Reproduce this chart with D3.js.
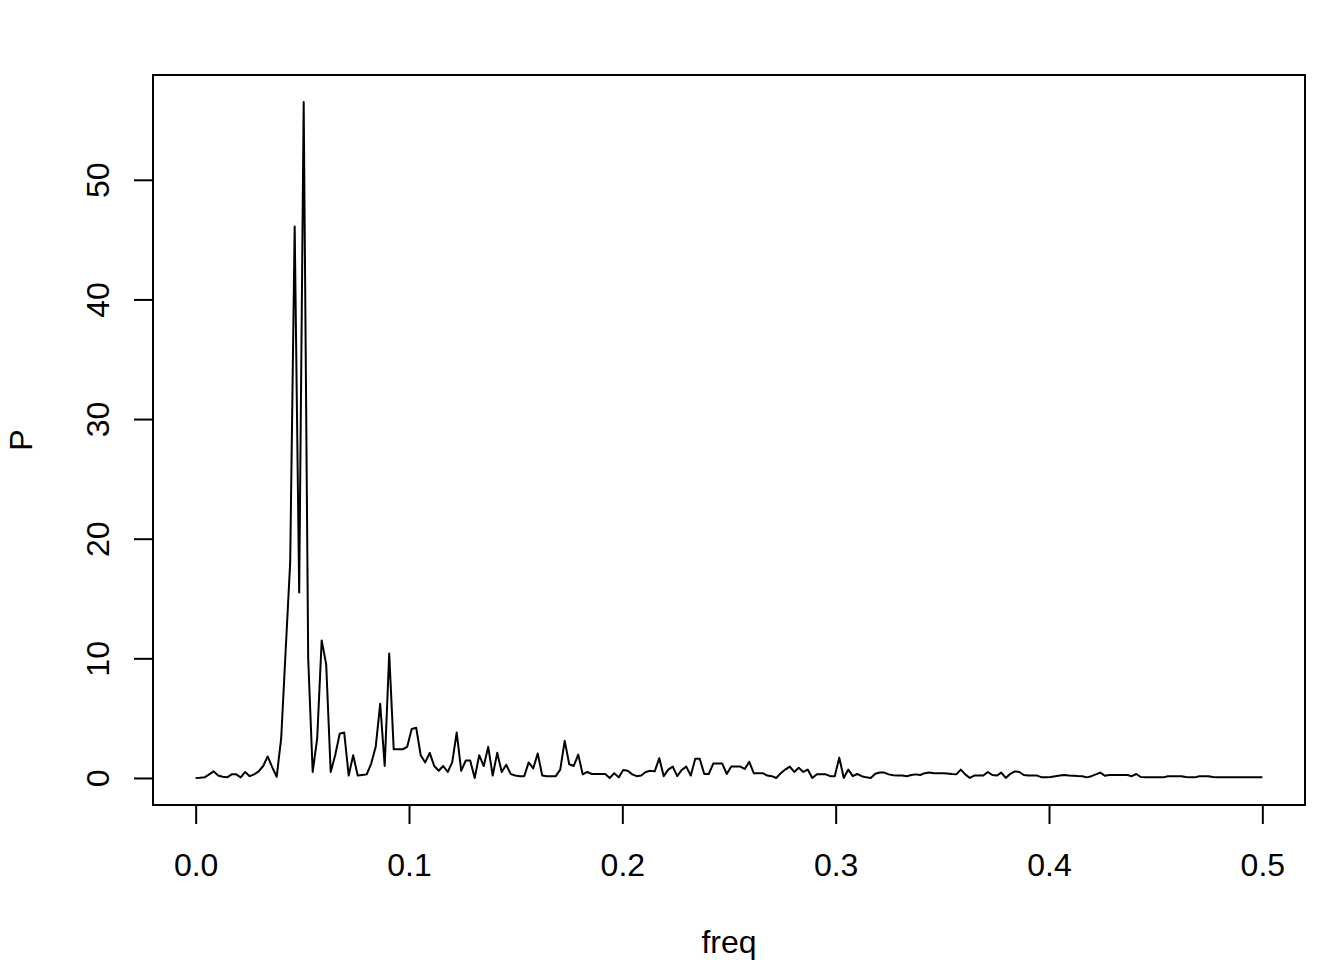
<!DOCTYPE html>
<html>
<head>
<meta charset="utf-8">
<script src="https://cdn.jsdelivr.net/npm/d3@7"></script>
<style>
  html, body { margin: 0; padding: 0; background: #ffffff; }
  svg { display: block; }
  text { font-family: "Liberation Sans", Arial, sans-serif; }
</style>
</head>
<body>
<svg id="chart" width="1344" height="960"></svg>
<script>
// ---- data ----
const seriesLength = 474;               // frequencies are k / seriesLength, k = 0..237
const power = [
  0, 0.02, 0.05, 0.3, 0.55, 0.2, 0.1, 0.05, 0.3, 0.3,
  0.05, 0.5, 0.15, 0.3, 0.55, 1.0, 1.8, 0.9, 0.1, 3.3,
  10.7, 18, 46.1, 15.5, 56.5, 10, 0.5, 3.3, 11.5, 9.5,
  0.5, 1.9, 3.7, 3.8, 0.2, 1.9, 0.2, 0.25, 0.3, 1.2,
  2.6, 6.2, 1.0, 10.4, 2.4, 2.4, 2.4, 2.6, 4.1, 4.2,
  1.9, 1.3, 2.1, 1.0, 0.6, 1.0, 0.5, 1.3, 3.8, 0.6,
  1.45, 1.45, 0.0, 1.9, 1.0, 2.6, 0.2, 2.1, 0.5, 1.1,
  0.33, 0.2, 0.15, 0.15, 1.3, 0.8, 2.05, 0.2, 0.15, 0.15,
  0.15, 0.7, 3.1, 1.15, 1.0, 1.95, 0.3, 0.5, 0.33, 0.33,
  0.33, 0.33, 0.0, 0.4, 0.05, 0.67, 0.6, 0.3, 0.15, 0.2,
  0.5, 0.6, 0.55, 1.65, 0.15, 0.7, 0.95, 0.15, 0.67, 0.95,
  0.2, 1.6, 1.6, 0.33, 0.33, 1.2, 1.2, 1.2, 0.33, 0.95,
  0.95, 0.95, 0.75, 1.35, 0.4, 0.4, 0.4, 0.2, 0.15, 0.0,
  0.4, 0.7, 0.95, 0.5, 0.85, 0.5, 0.7, 0.0, 0.3, 0.3,
  0.3, 0.15, 0.15, 1.7, 0.0, 0.7, 0.15, 0.33, 0.15, 0.05,
  0.0, 0.35, 0.45, 0.45, 0.3, 0.22, 0.2, 0.2, 0.15, 0.25,
  0.3, 0.25, 0.4, 0.45, 0.4, 0.4, 0.4, 0.38, 0.33, 0.3,
  0.7, 0.3, 0.0, 0.2, 0.2, 0.2, 0.5, 0.25, 0.2, 0.45,
  0.0, 0.35, 0.55, 0.5, 0.25, 0.2, 0.2, 0.2, 0.05, 0.05,
  0.08, 0.15, 0.2, 0.25, 0.2, 0.18, 0.16, 0.15, 0.05, 0.15,
  0.3, 0.45, 0.18, 0.25, 0.25, 0.25, 0.25, 0.25, 0.15, 0.33,
  0.08, 0.05, 0.05, 0.05, 0.05, 0.05, 0.15, 0.15, 0.15, 0.15,
  0.08, 0.05, 0.05, 0.15, 0.15, 0.15, 0.08, 0.05, 0.05, 0.05,
  0.05, 0.05, 0.05, 0.05, 0.05, 0.05, 0.05, 0.05
];
const freq = power.map((_, k) => k / seriesLength);
const xTicks = [0, 0.1, 0.2, 0.3, 0.4, 0.5];
const yTicks = [0, 10, 20, 30, 40, 50];
const xLabel = "freq";
const yLabel = "P";

// ---- layout ----
const box = { left: 153, right: 1305, top: 75, bottom: 805 };
const svg = d3.select("#chart");
const FONT = 32;

function padExtent(ext) {
  const d = (ext[1] - ext[0]) * 0.04;
  return [ext[0] - d, ext[1] + d];
}

const x = d3.scaleLinear()
  .domain(padExtent([d3.min(freq), d3.max(freq)]))
  .range([box.left, box.right]);
const y = d3.scaleLinear()
  .domain(padExtent([d3.min(power), d3.max(power)]))
  .range([box.bottom, box.top]);

// data line
const line = d3.line().x((d, i) => x(freq[i])).y(d => y(d));
svg.append("path")
  .datum(power)
  .attr("d", line)
  .attr("fill", "none")
  .attr("stroke", "#000")
  .attr("stroke-width", 2)
  .attr("stroke-linejoin", "round");

// plot box
svg.append("rect")
  .attr("x", box.left).attr("y", box.top)
  .attr("width", box.right - box.left).attr("height", box.bottom - box.top)
  .attr("fill", "none").attr("stroke", "#000").attr("stroke-width", 2);

// x axis
const gx = svg.append("g")
  .attr("transform", `translate(0,${box.bottom})`)
  .call(d3.axisBottom(x).tickValues(xTicks).tickFormat(d3.format(".1f")).tickSize(19));
gx.select(".domain").remove();
svg.append("line")
  .attr("x1", x(xTicks[0])).attr("x2", x(xTicks[xTicks.length - 1]))
  .attr("y1", box.bottom).attr("y2", box.bottom)
  .attr("stroke", "#000").attr("stroke-width", 2);
gx.selectAll(".tick line").attr("stroke", "#000").attr("stroke-width", 2);
gx.selectAll(".tick text")
  .attr("y", 71).attr("dy", 0)
  .attr("fill", "#000")
  .style("font-size", FONT + "px")
  .style("font-family", '"Liberation Sans", Arial, sans-serif');

// y axis
const gy = svg.append("g")
  .attr("transform", `translate(${box.left},0)`)
  .call(d3.axisLeft(y).tickValues(yTicks).tickFormat(d3.format("d")).tickSize(19));
gy.select(".domain").remove();
svg.append("line")
  .attr("x1", box.left).attr("x2", box.left)
  .attr("y1", y(yTicks[0])).attr("y2", y(yTicks[yTicks.length - 1]))
  .attr("stroke", "#000").attr("stroke-width", 2);
gy.selectAll(".tick line").attr("stroke", "#000").attr("stroke-width", 2);
gy.selectAll(".tick text")
  .attr("x", 0).attr("y", 0).attr("dy", 0)
  .attr("text-anchor", "middle")
  .attr("transform", "translate(-44.5,0) rotate(-90)")
  .attr("fill", "#000")
  .style("font-size", FONT + "px")
  .style("font-family", '"Liberation Sans", Arial, sans-serif');

// axis titles
svg.append("text")
  .attr("x", (box.left + box.right) / 2).attr("y", 953)
  .attr("text-anchor", "middle")
  .style("font-size", FONT + "px")
  .text(xLabel);
svg.append("text")
  .attr("transform", `translate(31.5,${(box.top + box.bottom) / 2}) rotate(-90)`)
  .attr("text-anchor", "middle")
  .style("font-size", FONT + "px")
  .text(yLabel);
</script>
</body>
</html>
